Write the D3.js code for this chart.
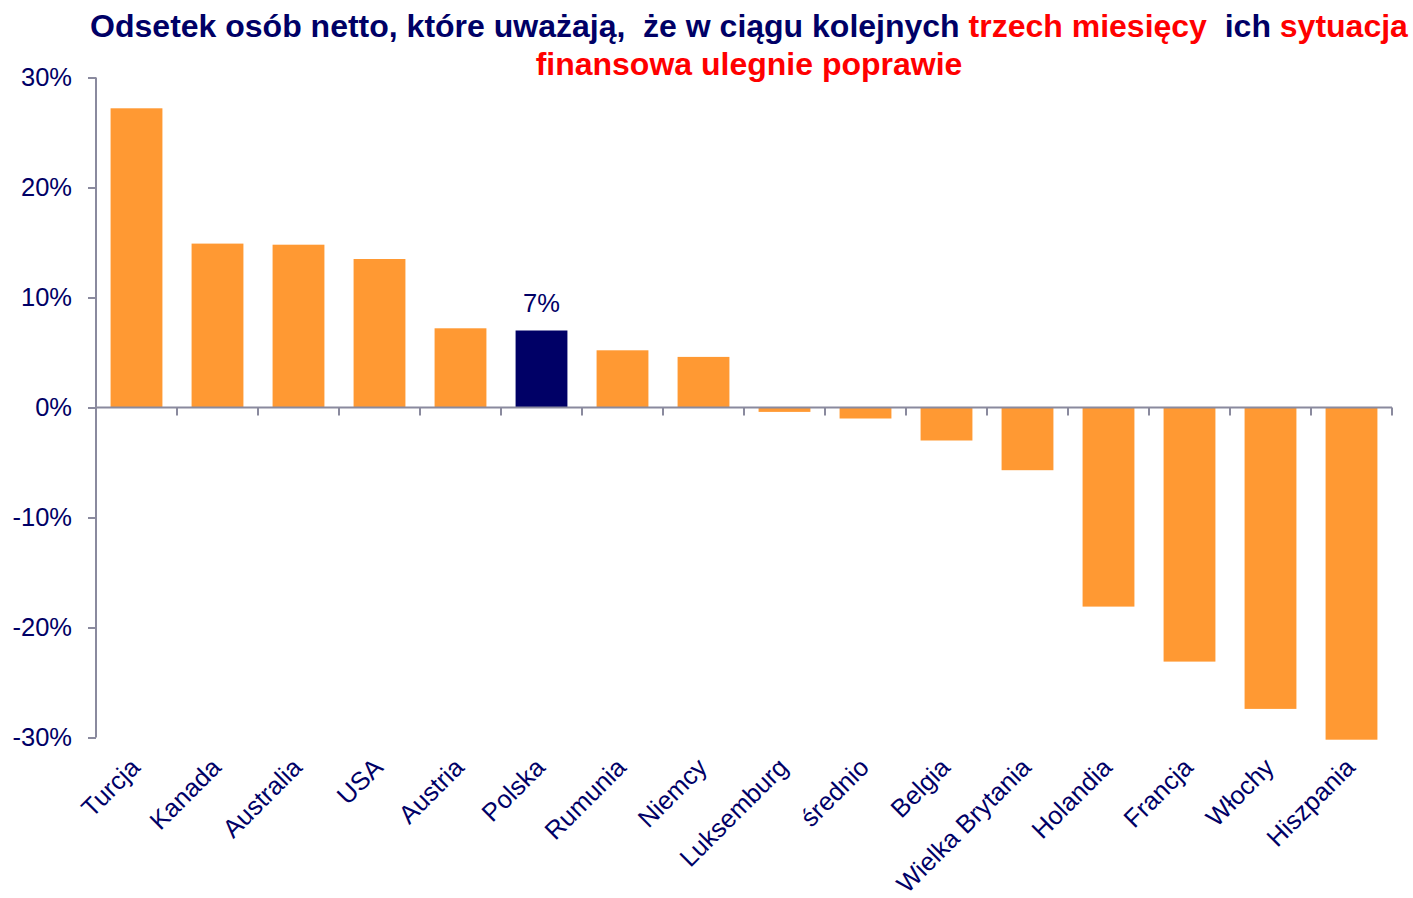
<!DOCTYPE html>
<html>
<head>
<meta charset="utf-8">
<script src="https://cdn.jsdelivr.net/npm/d3@7"></script>
<style>
  body { margin: 0; background: #fff; }
  text { font-family: Arial, "Liberation Sans", sans-serif; }
</style>
</head>
<body>
<svg id="chart" width="1413" height="898"></svg>
<script>
// data
const countries = ["Turcja", "Kanada", "Australia", "USA", "Austria", "Polska", "Rumunia", "Niemcy",
  "Luksemburg", "średnio", "Belgia", "Wielka Brytania", "Holandia", "Francja", "Włochy", "Hiszpania"];
const netShare = [27.2, 14.9, 14.8, 13.5, 7.2, 7.0, 5.2, 4.6,
  -0.4, -1.0, -3.0, -5.7, -18.1, -23.1, -27.4, -30.2];
const yTicks = [-30, -20, -10, 0, 10, 20, 30];
const highlight = "Polska";
const highlightLabel = "7%";
const titleLine1 = [
  { t: "Odsetek osób netto, które uważają,\u00a0 że w ciągu kolejnych ", red: false },
  { t: "trzech miesięcy", red: true },
  { t: "\u00a0 ich ", red: false },
  { t: "sytuacja", red: true }
];
const titleLine2 = "finansowa ulegnie poprawie";

const navy = "#000066";
const orange = "#FF9933";
const axisCol = "#8A8A9E";

const svg = d3.select("#chart");
const plotLeft = 96, plotRight = 1392, plotTop = 77.5, plotBottom = 737.5;

const x = d3.scaleBand()
  .domain(countries)
  .range([plotLeft, plotRight])
  .paddingInner(0.36)
  .paddingOuter(0.18);

const y = d3.scaleLinear().domain([-30, 30]).range([plotBottom, plotTop]);

// title
const title = svg.append("text")
  .attr("x", 749).attr("y", 37)
  .attr("text-anchor", "middle")
  .attr("font-weight", "bold")
  .attr("font-size", 32);
title.selectAll("tspan").data(titleLine1).join("tspan")
  .attr("fill", d => d.red ? "#FF0000" : navy)
  .text(d => d.t);

svg.append("text")
  .attr("x", 749).attr("y", 75)
  .attr("text-anchor", "middle")
  .attr("font-weight", "bold")
  .attr("font-size", 32)
  .attr("fill", "#FF0000")
  .text(titleLine2);

// bars
const data = countries.map((c, i) => ({ c, v: netShare[i] }));
svg.append("g").selectAll("rect").data(data).join("rect")
  .attr("x", d => x(d.c))
  .attr("width", x.bandwidth())
  .attr("y", d => y(Math.max(0, d.v)))
  .attr("height", d => Math.abs(y(d.v) - y(0)))
  .attr("fill", d => d.c === highlight ? navy : orange);

// value label over the highlighted bar
const hv = data.find(d => d.c === highlight);
svg.append("text")
  .attr("x", x(hv.c) + x.bandwidth() / 2)
  .attr("y", y(hv.v) - 19)
  .attr("text-anchor", "middle")
  .attr("font-size", 25.5)
  .attr("fill", navy)
  .text(highlightLabel);

// y axis
const yAxis = svg.append("g")
  .attr("transform", `translate(${plotLeft},0)`)
  .call(d3.axisLeft(y).tickValues(yTicks).tickSize(8).tickPadding(16).tickFormat(d => d + "%"));
yAxis.select(".domain").attr("stroke", axisCol).attr("stroke-width", 2).attr("d", `M0,${plotTop}V${plotBottom}`);
yAxis.selectAll(".tick line").attr("stroke", axisCol).attr("stroke-width", 2);
yAxis.selectAll(".tick text")
  .attr("font-size", 25.5)
  .attr("fill", navy)
  .style("font-family", "Arial, 'Liberation Sans', sans-serif");

// x axis along zero, ticks at band boundaries
const zero = y(0);
const xg = svg.append("g");
xg.append("line")
  .attr("x1", plotLeft).attr("x2", plotRight)
  .attr("y1", zero).attr("y2", zero)
  .attr("stroke", axisCol).attr("stroke-width", 2);
xg.selectAll("line.tk").data(countries).join("line")
  .attr("class", "tk")
  .attr("x1", d => x(d) - x.step() * x.paddingOuter() + x.step())
  .attr("x2", d => x(d) - x.step() * x.paddingOuter() + x.step())
  .attr("y1", zero).attr("y2", zero + 8)
  .attr("stroke", axisCol).attr("stroke-width", 2);

// category labels, rotated
svg.append("g").selectAll("text").data(countries).join("text")
  .attr("transform", d => `translate(${x(d) + x.bandwidth() / 2 + 5},769) rotate(-45)`)
  .attr("text-anchor", "end")
  .attr("font-size", 25.5)
  .attr("fill", navy)
  .text(d => d);
</script>
</body>
</html>
